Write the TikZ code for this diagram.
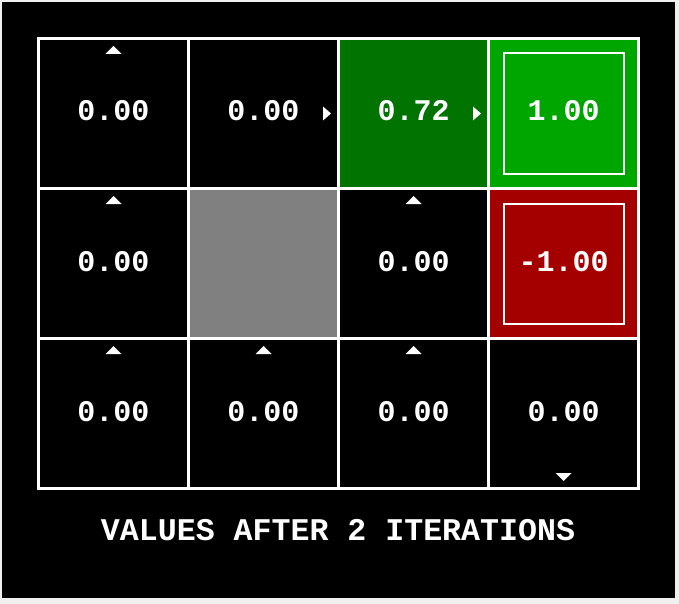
\documentclass[tikz,border=0pt]{standalone}
\usepackage{fontspec}
\setmonofont{Liberation Mono}
\usetikzlibrary{calc}
\definecolor{frame}{RGB}{240,240,240}
\definecolor{dkgreen}{RGB}{0,115,0}
\definecolor{ltgreen}{RGB}{0,166,0}
\definecolor{dkred}{RGB}{164,0,0}
\definecolor{wallgray}{RGB}{128,128,128}
\newcommand\arrUp[1]{\fill[arrowtri] ($(#1.north)+(0,7.5)$) -- ++(8,8) -- ++(-16,0) -- cycle;}
\newcommand\arrDown[1]{\fill[arrowtri] ($(#1.south)+(0,-7.5)$) -- ++(8,-8) -- ++(-16,0) -- cycle;}
\newcommand\arrRight[1]{\fill[arrowtri] ($(#1.east)+(-7.5,0)$) -- ++(-8,-7) -- ++(0,14) -- cycle;}
\begin{document}
\begin{tikzpicture}[x=1pt,y=-1pt,
  cell/.style={draw=white, line width=3pt, minimum size=150pt, inner sep=0pt, outer sep=0pt, fill=black},
  innerbox/.style={draw=white, line width=2pt, minimum size=120pt, inner sep=0pt, outer sep=0pt},
  val/.style={text=white, anchor=base, inner sep=0pt, font=\ttfamily\bfseries\fontsize{30}{30}\selectfont},
  ttl/.style={text=white, anchor=base, inner sep=0pt, font=\ttfamily\bfseries\fontsize{31.6}{32}\selectfont},
  arrowtri/.style={fill=white}]
\useasboundingbox (0,0) rectangle (679,604);
\fill[frame] (0,0) rectangle (679,604);
\fill[black] (2,2) rectangle (675,598);
% cells
\node[cell] (c00) at (113.5,113.5) {};
\node[cell] (c01) at (263.5,113.5) {};
\node[cell, fill=dkgreen] (c02) at (413.5,113.5) {};
\node[cell, fill=ltgreen] (c03) at (563.5,113.5) {};
\node[cell] (c10) at (113.5,263.5) {};
\node[cell, fill=wallgray] (c11) at (263.5,263.5) {};
\node[cell] (c12) at (413.5,263.5) {};
\node[cell, fill=dkred] (c13) at (563.5,263.5) {};
\node[cell] (c20) at (113.5,413.5) {};
\node[cell] (c21) at (263.5,413.5) {};
\node[cell] (c22) at (413.5,413.5) {};
\node[cell] (c23) at (563.5,413.5) {};
% terminal boxes
\node[innerbox] (i03) at (c03.center) {};
\node[innerbox] (i13) at (c13.center) {};
% values
\node[val] (v00) at ($(c00.center)+(0,7.5)$) {0.00};
\node[val] (v01) at ($(c01.center)+(0,7.5)$) {0.00};
\node[val] (v02) at ($(c02.center)+(0,7.5)$) {0.72};
\node[val] (v03) at ($(c03.center)+(0,7.5)$) {1.00};
\node[val] (v10) at ($(c10.center)+(0,7.5)$) {0.00};
\node[val] (v12) at ($(c12.center)+(0,7.5)$) {0.00};
\node[val] (v13) at ($(c13.center)+(0,7.5)$) {-1.00};
\node[val] (v20) at ($(c20.center)+(0,7.5)$) {0.00};
\node[val] (v21) at ($(c21.center)+(0,7.5)$) {0.00};
\node[val] (v22) at ($(c22.center)+(0,7.5)$) {0.00};
\node[val] (v23) at ($(c23.center)+(0,7.5)$) {0.00};
% policy arrows
\arrUp{c00}
\arrRight{c01}
\arrRight{c02}
\arrUp{c10}
\arrUp{c12}
\arrUp{c20}
\arrUp{c21}
\arrUp{c22}
\arrDown{c23}
% title
\node[ttl] (title) at (338,540) {VALUES AFTER 2 ITERATIONS};
\end{tikzpicture}
\end{document}
